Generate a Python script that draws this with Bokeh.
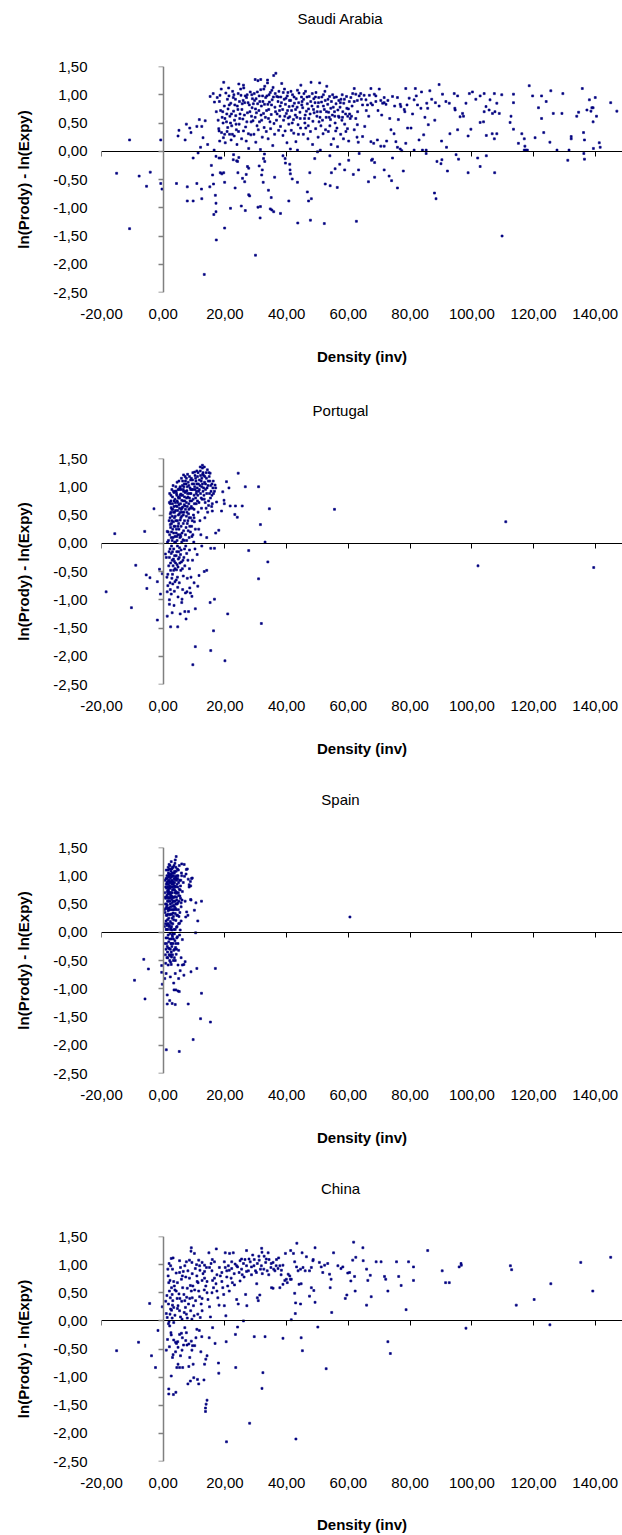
from bokeh.plotting import figure
from bokeh.models import Range1d, LinearAxis, FixedTicker, Title
from bokeh.layouts import column
from bokeh.embed import file_html
from bokeh.resources import INLINE

# ---------------- data ----------------
panel_titles = ["Saudi Arabia", "Portugal", "Spain", "China"]
x_axis_title = "Density (inv)"
y_axis_title = "ln(Prody) - ln(Expy)"
x_ticks = [-20, 0, 20, 40, 60, 80, 100, 120, 140]
x_tick_labels = ["-20,00", "0,00", "20,00", "40,00", "60,00", "80,00", "100,00", "120,00", "140,00"]
y_ticks = [-2.5, -2.0, -1.5, -1.0, -0.5, 0.0, 0.5, 1.0, 1.5]
y_tick_labels = ["-2,50", "-2,00", "-1,50", "-1,00", "-0,50", "0,00", "0,50", "1,00", "1,50"]

saudi_pts = [
 (-10.9,0.20),(-0.8,0.20),(-15.1,-0.39),(-7.8,-0.44),(-4.2,-0.37),(-5.4,-0.62),(-0.8,-0.57),(-0.4,-0.67),(-10.9,-1.37),(4.3,-0.57),
 (4.8,0.27),(5.1,0.37),(7.5,0.48),(7.1,0.20),(8.6,0.41),(9.0,0.33),(7.8,-0.63),(7.8,-0.88),(9.7,-0.88),(9.7,-0.12),
 (10.9,-0.57),(11.3,-0.03),(10.9,0.44),(11.7,0.56),(13.6,0.54),(12.5,0.44),(12.9,0.24),(12.1,0.07),(12.4,-0.67),(12.5,-0.84),
 (13.3,-2.18),(14.4,0.12),(15.1,-0.63),(15.6,-0.25),(16.0,-0.42),(16.3,-0.58),(16.5,0.02),(16.9,-0.78),(16.4,-1.12),(17.1,-0.92),
 (17.1,-1.07),(17.2,-1.57),(15.2,0.97),(16.2,1.02),(16.6,0.87),(17.1,-0.09),(18.1,-0.12),(18.1,0.36),(18.3,0.18),(18.5,-0.38),
 (18.7,-0.12),(19.0,-0.40),(19.6,1.22),(19.9,-0.55),(19.9,-1.36),(19.6,-0.38),
 (21.8,-1.01),(22.7,-0.15),(22.8,-0.06),(23.3,-0.65),(23.8,-0.17),(24.1,-0.18),(24.5,-0.11),(24.2,-0.38),(25.3,-0.97),(25.7,-0.48),
 (26.4,-0.54),(26.6,-1.05),(26.9,-0.41),(27.7,-0.77),(28.0,-0.79),(27.7,-0.30),(27.3,-0.27),(29.9,-1.84),(30.7,-0.99),(31.4,-1.18),
 (31.5,-0.98),(31.9,-0.42),(31.1,-0.26),(32.1,-0.33),(32.4,-0.55),(32.5,-0.13),(32.9,-0.18),(32.8,-0.05),(34.1,-0.69),(34.7,-1.02),
 (35.0,-0.82),(35.2,-1.04),(35.8,-1.07),(36.1,-0.46),(38.0,-1.10),(38.8,-0.08),(39.5,-0.13),(39.6,-0.21),(41.0,-0.23),(41.1,-0.33),
 (41.2,-0.40),(40.7,-0.88),(41.2,0.04),(41.8,-0.49),(43.5,-0.55),(43.5,0.02),(43.6,-1.27),(46.7,-0.72),(47.1,-0.88),(48.0,-0.84),
 (47.7,-1.22),(47.5,-0.38),(49.1,-0.13),(50.0,-0.01),(50.9,0.02),(52.2,-1.28),(52.5,-0.58),(54.0,-0.08),(54.1,-0.61),(55.7,-0.31),
 (56.4,-0.64),(54.5,-0.38),(57.2,-0.23),(58.8,-0.33),(60.1,-0.16),(61.6,-0.41),(62.6,-1.24),(63.3,-0.33),
 (17.5,0.95),(18.2,0.88),(18.6,0.72),(19.1,0.60),(19.4,0.50),(19.8,0.80),(20.3,1.03),(20.6,0.66),(20.9,0.42),(17.8,0.55),
 (18.9,0.33),(19.5,0.24),(20.1,0.15),(20.8,0.92),(18.4,0.99),(17.2,0.70),(19.9,0.30),(20.5,0.52),(18.0,0.40),(21.0,0.75),
 (21.3,0.98),(21.6,0.62),(21.9,0.85),(22.2,0.45),(22.5,1.06),(22.8,0.71),(23.1,0.55),(23.4,0.92),(23.7,0.38),(24.0,0.80),
 (24.3,1.02),(24.6,0.48),(24.9,0.66),(21.5,0.30),(22.0,0.20),(23.0,0.27),(23.9,0.12),(24.4,0.35),(22.7,0.95),(24.7,0.88),
 (21.8,0.50),(23.5,0.63),
 (25.2,0.99),(25.5,0.74),(25.8,0.57),(26.1,1.12),(26.4,0.86),(26.7,0.43),(27.0,0.95),(27.3,0.68),(27.6,0.31),(27.9,0.82),
 (28.2,1.05),(28.5,0.52),(28.8,0.77),(25.4,0.22),(26.0,0.36),(26.9,0.18),(27.7,0.05),(28.4,0.29),(28.9,0.93),(25.9,0.90),
 (27.2,1.00),(28.6,0.62),
 (29.2,0.84),(29.5,1.02),(29.8,0.60),(30.1,0.93),(30.4,0.45),(30.7,1.25),(31.0,0.72),(31.3,0.88),(31.6,1.09),(31.9,0.55),
 (32.2,0.98),(32.5,0.67),(32.8,0.83),(29.4,0.30),(30.0,0.16),(30.8,0.38),(31.5,0.03),(32.1,0.25),(32.7,0.42),(29.9,0.75),
 (31.2,0.52),(32.9,1.15),(30.5,1.05),(31.8,0.80),(29.8,1.27),(31.6,1.27),(33.8,1.26),
 (33.2,0.95),(33.5,0.72),(33.8,1.21),(34.1,0.58),(34.4,0.87),(34.7,1.04),(35.0,0.65),(35.3,0.91),(35.6,1.13),(35.9,0.49),
 (36.2,0.78),(36.5,1.38),(36.8,0.97),(33.4,0.35),(34.0,0.22),(34.8,0.40),(35.5,0.10),(36.1,0.30),(36.7,0.55),(33.9,0.83),
 (35.2,1.08),(36.4,0.70),(34.3,1.00),(35.8,1.34),
 (37.2,0.88),(37.5,1.06),(37.8,0.62),(38.1,0.96),(38.4,1.20),(38.7,0.74),(39.0,0.55),(39.3,1.10),(39.6,0.83),(39.9,0.67),
 (40.2,0.98),(40.5,0.59),(40.8,0.79),(37.4,0.37),(38.0,0.44),(38.8,0.28),(39.5,0.36),(40.1,0.15),(40.7,0.48),(37.9,0.80),
 (39.2,0.92),(40.4,1.04),(41.0,0.61),
 (41.3,0.90),(41.6,0.72),(41.9,1.00),(42.2,0.56),(42.5,0.85),(42.8,0.64),(43.1,0.93),(43.4,0.78),(43.7,0.47),(44.0,1.03),
 (44.3,0.69),(44.6,1.17),(44.9,0.82),(41.5,0.37),(42.3,0.32),(43.0,0.17),(43.8,0.30),(44.5,0.41),(42.0,0.80),(43.3,0.60),
 (44.8,0.96),(24.5,1.19),(26.0,1.17),
 (45.2,0.77),(45.5,0.92),(45.8,0.58),(46.1,1.06),(46.4,0.71),(46.7,0.84),(47.0,0.45),(47.3,0.97),(47.6,0.66),(47.9,1.22),
 (48.2,0.80),(48.5,0.53),(48.8,0.93),(45.4,0.30),(46.2,0.41),(46.9,0.22),(47.7,0.35),(48.4,0.12),(45.9,0.50),(47.1,0.75),
 (48.9,0.68),
 (49.2,0.86),(49.5,1.04),(49.8,0.62),(50.1,0.79),(50.4,0.95),(50.7,1.21),(51.0,0.70),(51.3,0.87),(51.6,0.55),(51.9,1.00),
 (52.2,0.74),(52.5,0.90),(52.8,0.60),(49.4,0.40),(50.2,0.25),(51.1,0.45),(51.8,0.31),(52.6,0.38),(53.0,1.15),(50.5,0.52),
 (53.3,0.83),(53.6,0.69),(53.9,0.97),(54.2,0.56),(54.5,0.88),(54.8,0.64),(55.1,0.78),(55.4,0.95),(55.7,0.50),(56.0,0.84),
 (56.3,0.41),(56.6,0.73),(56.9,0.90),(53.5,0.35),(54.4,0.12),(55.2,0.22),(55.9,0.36),(56.5,0.08),(54.0,0.45),(55.6,0.62),
 (57.0,0.60),
 (57.3,0.78),(57.6,0.92),(57.9,0.55),(58.2,0.70),(58.5,0.85),(58.8,0.48),(59.1,0.66),(59.4,0.97),(59.7,0.40),(60.0,0.75),
 (60.3,0.88),(60.6,0.58),(57.5,0.30),(58.4,0.22),(59.2,0.35),(60.1,0.18),(60.8,0.95),(58.0,1.00),(59.8,0.62),
 (18.8,1.10),(19.3,0.70),(20.0,0.58),(20.7,0.35),(21.2,1.12),(21.4,0.82),(22.1,0.66),(22.4,0.30),(22.9,1.00),(23.2,0.82),
 (23.6,0.48),(24.2,0.74),(24.8,0.58),(25.1,1.10),(25.6,0.84),(26.3,0.64),(26.6,0.98),(27.1,0.52),(27.5,0.86),(28.1,0.70),
 (28.7,1.00),(29.1,0.54),(29.6,0.90),(30.2,0.68),(30.6,0.84),(31.1,0.98),(31.7,0.64),(32.3,0.88),(32.6,1.10),(33.1,0.60),
 (33.6,0.98),(34.2,0.74),(34.6,0.52),(35.1,0.82),(35.7,0.96),(36.3,1.02),(36.9,0.66),(37.3,0.96),(37.7,0.72),(38.3,0.86),
 (38.9,1.04),(39.4,0.62),(39.8,0.94),(40.3,0.72),(40.9,0.90),(41.4,1.06),(41.8,0.50),(42.4,0.96),(42.9,0.74),(43.5,1.08),
 (43.9,0.86),(44.4,0.58),(45.0,0.88),(45.6,1.02),(46.0,0.64),(46.6,0.96),(47.2,0.58),(47.8,0.88),(48.3,1.02),(48.7,0.74),
 (49.3,0.96),(49.9,0.70),(50.3,0.86),(50.8,0.60),(51.4,0.96),(51.9,0.80),(52.4,1.06),(52.9,0.70),(53.4,0.92),(53.8,0.60),
 (54.3,0.76),(54.9,1.00),(55.5,0.70),(56.1,0.96),(56.8,0.62),(57.4,0.86),(58.1,0.60),(58.7,0.92),(59.5,0.76),(60.4,0.66),
 (61.2,0.80),(61.0,0.62),(63.0,0.70),(64.2,0.92),(65.8,0.72),(66.6,0.62),(69.6,0.72),(70.8,0.64),(72.8,0.90),(73.4,0.58),
 (75.0,0.80),(76.2,0.56),(79.0,0.82),(80.8,0.66),(82.0,0.98),(84.8,0.60),(87.0,0.92),(88.0,0.55),
 (61.9,1.11),(67.3,1.11),(70.0,1.10),(61.4,1.02),(62.4,1.01),(63.5,0.98),(64.0,1.02),(65.1,0.99),(66.8,0.99),(68.4,1.01),
 (68.9,0.98),(71.6,0.95),(61.9,0.88),(62.9,0.90),(64.6,0.82),(65.7,0.91),(66.2,0.82),(67.3,0.85),(67.8,0.82),(68.9,0.88),
 (70.5,0.90),(71.1,0.85),(71.6,0.86),(72.2,0.83),(74.3,0.97),(75.9,0.95),(76.8,0.83),(77.0,0.79),(78.1,0.74),(78.3,0.70),
 (78.6,1.11),(81.7,1.11),(83.7,1.05),(86.4,1.07),(79.7,0.94),(81.3,0.91),(82.4,0.82),(83.5,0.76),(85.4,0.85),(85.7,0.76),
 (89.4,1.18),(88.2,0.86),(89.4,0.80),(90.5,1.01),(91.6,0.88),(92.7,0.85),(94.3,1.02),(95.4,0.98),(94.5,0.76),(94.6,0.73),
 (97.0,0.67),(97.3,0.62),(98.1,0.85),(99.2,1.02),(100.2,1.05),(101.3,0.92),(102.7,0.98),(104.0,1.02),(104.0,0.70),(104.6,0.79),
 (105.6,0.73),(105.9,0.91),(106.7,0.67),(107.3,1.02),(107.5,0.70),(108.1,0.85),(108.9,0.67),(109.7,1.00),(113.5,1.01),(113.5,0.86),
 (112.7,0.62),(112.4,0.51),(113.5,0.39),(118.6,1.16),(119.7,0.98),(121.6,0.77),(122.6,0.98),(124.1,0.88),(125.6,1.07),(126.4,0.67),
 (129.2,0.67),(129.5,1.02),(122.6,0.58),(134.0,0.62),(134.6,0.69),(135.8,1.11),(137.3,0.73),(138.1,0.91),(138.6,0.71),(138.9,0.77),
 (139.3,0.77),(139.3,0.52),(140.0,0.95),(140.4,0.62),(145.0,0.86),(147.0,0.71),
 (62.4,0.58),(62.9,0.47),(61.9,0.38),(62.8,0.25),(63.2,0.16),(64.6,0.26),(65.3,0.44),(67.3,0.17),(68.2,0.14),(69.4,0.20),
 (70.5,0.09),(71.6,0.09),(72.4,0.18),(73.8,0.38),(74.8,0.31),(75.4,0.17),(75.9,0.07),(76.8,0.04),(77.3,0.01),(78.6,0.14),
 (79.2,0.41),(80.3,0.41),(81.3,0.02),(82.9,0.20),(84.0,0.02),(84.4,0.29),(85.2,0.02),(85.9,0.47),(90.2,0.18),(91.8,0.07),
 (92.9,0.31),(95.4,0.38),(96.2,0.61),(98.8,0.27),(99.7,0.39),(102.7,0.51),(103.8,0.52),(104.7,0.28),(106.6,0.31),(107.3,0.22),
 (108.1,0.31),(115.1,0.14),(116.2,0.31),(117.0,0.22),(117.2,0.09),(117.0,0.02),(117.5,0.02),(118.0,0.02),(120.5,0.24),(123.3,0.33),
 (125.3,0.16),(127.6,0.02),(131.5,0.02),(132.2,0.26),(132.2,0.22),(136.2,0.33),(136.5,0.20),(139.4,0.05),(141.3,0.15),(141.6,0.07),
 (63.5,-0.04),(66.5,-0.54),(67.5,-0.16),(67.8,-0.14),(68.5,-0.20),(68.5,-0.46),(71.6,-0.33),(73.2,-0.44),(74.0,-0.52),(74.3,-0.12),
 (75.9,-0.65),(77.8,-0.35),(85.2,-0.04),(87.9,-0.74),(88.4,-0.84),(88.7,-0.18),(90.0,-0.22),(90.3,-0.15),(92.1,-0.35),(94.9,-0.06),
 (95.7,-0.14),(98.8,-0.38),(101.9,-0.12),(102.7,-0.27),(104.7,-0.08),(107.4,-0.38),(109.8,-1.50),(131.1,-0.16),(136.5,-0.14),(136.3,-0.04),
]

portugal_pts = [
 (-15.7,0.17),(-6.0,0.21),(-3.0,0.61),(-8.9,-0.39),(-18.5,-0.86),(-10.3,-1.14),(-5.5,-0.56),(-4.3,-0.61),(-5.3,-0.80),(-1.9,-0.68),
 (-0.9,-0.90),(-1.2,-0.46),(-0.3,-0.54),(-1.9,-1.36),(1.3,0.21),(0.7,-0.19),(1.3,-0.86),(2.0,-1.08),(1.3,-1.29),(2.4,-1.48),
 (2.9,-1.23),(4.7,-1.48),(5.5,-1.25),(7.0,-1.21),(7.4,-1.34),(8.2,-1.21),(10.4,-1.83),(9.6,-2.15),(15.4,-1.90),(16.3,-1.55),
 (20.0,-2.08),(20.9,-1.25),(31.8,-1.42),(15.2,-1.05),(16.6,-0.99),(11.2,-0.76),(10.4,-1.16),(11.6,-0.57),(13.3,-0.50),(14.1,-0.48),
 (9.3,-0.94),(8.8,-0.88),(8.6,-0.79),(7.7,-0.86),(6.1,-0.99),(30.9,-0.63),(33.9,-0.33),(27.7,-0.13),(33.0,0.02),(31.5,0.33),
 (34.4,0.61),(24.3,1.24),(26.6,1.00),(30.9,1.00),(20.5,1.09),(21.3,0.98),(21.7,0.66),(23.4,0.66),(25.6,0.66),(23.2,0.51),
 (24.0,0.46),(18.9,0.57),(19.7,0.76),(19.8,0.70),(19.3,0.91),(18.0,0.23),(17.0,0.18),(16.6,-0.09),(15.4,-0.09),(14.1,0.10),
 (17.0,0.98),(17.3,0.73),(15.7,0.65),(15.9,0.57),(14.7,0.67),(55.5,0.60),(102.0,-0.40),(111.0,0.38),(139.5,-0.43),
 (1.5,-0.55),(1.8,-0.40),(2.0,-0.25),(2.2,-0.10),(1.7,0.05),(2.1,0.15),(2.4,0.28),(1.9,0.40),(2.3,0.52),(2.6,0.63),
 (2.0,0.72),(2.5,0.85),(2.8,0.95),(1.6,0.20),(2.7,0.35),(2.9,-0.30),(2.4,-0.48),(2.2,-0.70),(2.8,-0.62),(1.4,0.02),
 (2.6,0.10),(2.9,0.48),(3.0,0.70),(1.9,-0.15),(2.3,0.33),(2.7,-0.05),
 (3.2,1.02),(3.5,0.90),(3.8,0.78),(4.1,0.66),(3.3,0.55),(3.6,0.45),(3.9,0.30),(4.2,0.18),(4.5,0.05),(3.4,-0.10),
 (3.7,-0.22),(4.0,-0.35),(4.3,-0.47),(4.6,-0.60),(3.1,-0.72),(3.6,-0.85),(4.8,0.95),(4.4,0.85),(4.7,0.72),(3.0,0.82),
 (3.3,0.38),(4.9,0.50),(4.0,0.58),(4.6,0.40),(3.8,0.12),(4.4,-0.15),(3.2,-0.40),(4.9,-0.28),(4.1,1.00),(3.5,0.65),
 (4.3,0.25),(4.8,0.15),(3.9,0.92),(4.5,1.08),(3.1,0.25),(3.7,0.02),(4.2,-0.65),(4.7,-0.78),
 (5.1,1.10),(5.4,0.98),(5.7,0.87),(6.0,0.76),(6.3,0.64),(5.2,0.52),(5.5,0.41),(5.8,0.30),(6.1,0.18),(6.4,0.06),
 (5.3,-0.08),(5.6,-0.20),(5.9,-0.33),(6.2,-0.45),(6.5,-0.58),(5.0,0.80),(5.6,0.70),(6.6,0.92),(6.8,1.05),(5.9,1.15),
 (6.2,1.02),(5.3,0.62),(6.7,0.55),(6.9,0.40),(5.1,0.25),(6.0,0.48),(5.7,0.12),(6.6,0.22),(5.4,-0.35),(6.9,-0.10),
 (6.3,0.85),(5.8,0.95),(6.5,0.75),
 (7.1,1.18),(7.4,1.05),(7.7,0.93),(8.0,0.82),(8.3,0.70),(7.2,0.60),(7.5,0.48),(7.8,0.35),(8.1,0.22),(8.4,0.10),
 (7.3,-0.05),(7.6,-0.18),(8.0,-0.30),(8.7,0.98),(8.9,1.12),(7.9,1.22),(8.5,0.88),(8.8,0.62),(7.0,0.75),(7.6,0.80),
 (8.2,0.52),(8.6,0.30),(7.4,0.28),(8.9,0.45),(7.1,0.90),(8.3,1.02),(7.8,0.65),(8.5,-0.12),
 (9.1,1.15),(9.4,1.05),(9.7,0.95),(10.0,0.85),(10.3,1.20),(9.2,0.75),(9.5,0.62),(9.8,0.50),(10.1,0.38),(10.4,0.25),
 (9.3,0.12),(9.9,0.02),(10.6,1.10),(10.8,0.92),(9.6,1.25),(10.2,1.00),(10.7,0.70),(9.0,0.88),(10.5,0.80),(9.4,0.40),
 (10.9,1.28),(10.0,0.60),(10.3,-0.10),
 (11.1,1.18),(11.4,1.05),(11.7,0.95),(12.0,1.28),(12.3,1.10),(11.2,0.85),(11.6,0.72),(12.1,0.88),(12.5,1.00),(12.8,1.22),
 (11.3,0.55),(12.6,0.78),(11.9,0.40),(12.4,0.62),(11.0,0.98),(12.9,0.92),(11.5,0.25),(12.2,0.15),
 (13.1,1.20),(13.4,1.08),(13.7,0.95),(14.0,1.15),(14.3,1.30),(13.2,0.85),(13.6,0.72),(14.1,0.88),(14.5,1.02),(14.8,1.25),
 (15.1,1.10),(15.5,0.92),(15.8,1.05),(16.1,0.98),(13.9,0.62),(14.7,0.75),(15.3,0.80),(13.5,0.45),(16.3,0.88),(14.4,0.55),
 (15.9,0.70),(13.3,1.35),(14.9,1.18),(12.7,1.33),(12.7,1.38),(12.0,1.35),(10.2,1.26),(6.6,1.21),(15.2,1.24),(16.8,1.03),
 (5.5,0.85),(6.5,0.95),(7.5,0.72),(8.5,0.80),(5.2,0.95),(6.2,0.55),(7.2,1.10),(4.5,0.65),(3.5,0.75),(4.2,0.92),
 (5.8,0.60),(6.8,0.68),(7.8,1.00),(3.9,0.48),(4.8,0.30),(5.5,0.15),(6.5,0.35),(3.4,0.18),(2.8,0.60),(2.5,0.75),
 (1.0,-0.25),(1.5,-0.75),(2.6,-0.90),(3.0,-0.55),(3.8,-0.68),(4.5,-0.38),(5.2,-0.70),(5.7,-0.48),(6.3,-0.82),(7.0,-0.40),
 (7.8,-0.62),(2.0,-1.00),(3.5,-1.10),(4.8,-0.95),(6.0,-1.05),(7.2,-0.88),(8.5,-0.45),(9.5,-0.30),(11.0,-0.20),(12.5,-0.05),
 (10.0,-0.70),(9.0,-0.60),(1.2,-0.60),(2.3,-0.82),(3.3,-0.28),(6.7,-0.25),(5.0,-0.15),
 (2.1,0.88),(2.3,0.70),(2.5,0.55),(2.7,0.20),(2.9,0.05),(3.1,0.60),(3.3,0.92),(3.5,0.30),(3.7,0.55),(3.9,0.72),
 (4.1,0.40),(4.3,0.88),(4.5,0.75),(4.7,0.58),(4.9,0.82),(5.1,0.68),(5.3,0.80),(5.5,1.00),(5.7,0.45),(5.9,0.85),
 (6.1,0.62),(6.3,1.10),(6.5,0.50),(6.7,1.00),(6.9,0.82),(7.1,0.66),(7.3,0.92),(7.5,1.15),(7.7,0.55),(7.9,0.88),
 (8.1,1.08),(8.3,0.60),(8.5,1.18),(8.7,0.75),(8.9,0.95),(9.1,0.65),(9.3,0.95),(9.5,1.12),(9.7,0.78),(9.9,1.05),
 (10.1,0.70),(10.3,0.95),(10.5,1.15),(10.7,0.88),(10.9,1.05),(11.1,0.75),(11.3,1.25),(11.5,0.92),(11.7,1.12),(11.9,1.02),
 (12.1,1.20),(12.3,0.80),(12.5,1.15),(12.7,1.05),(12.9,1.25),(13.1,0.98),(13.3,0.78),(13.5,1.18),(13.7,1.05),(13.9,1.25),
 (14.2,0.98),(14.6,1.10),(15.0,0.88),(15.4,1.02),(15.8,0.85),(16.2,1.10),(16.6,0.92),(2.2,0.45),(2.4,-0.35),(2.6,-0.18),
 (2.8,0.40),(3.0,-0.15),(3.2,0.10),(3.4,-0.48),(3.6,-0.32),(3.8,-0.45),(4.0,0.02),(4.2,-0.22),(4.4,0.12),(4.6,-0.05),
 (4.8,-0.42),(5.0,0.35),(5.2,-0.25),(5.4,0.10),(5.6,0.55),(5.8,-0.12),(6.0,0.02),(6.4,-0.30),(6.8,0.05),(7.2,0.15),
 (7.6,0.05),(8.0,0.40),(8.4,0.45),(8.8,0.20),(9.2,0.30),(9.6,0.15),(10.0,0.45),
]

spain_pts = [
 (-6.3,-0.48),(-4.8,-0.65),(-9.3,-0.85),(-5.9,-1.18),(-0.5,-0.59),(-0.5,-0.71),(-0.3,-0.92),(1.0,-2.08),(5.2,-2.11),(9.7,-1.90),
 (12.1,-1.53),(15.3,-1.59),(8.1,-1.27),(12.4,-1.08),(10.9,-0.64),(16.9,-0.64),(9.0,-0.70),(6.7,-0.76),(7.1,-0.52),(10.5,-0.01),
 (11.2,0.20),(10.1,0.39),(10.6,0.52),(12.4,0.55),(8.9,0.58),(8.0,0.30),(7.3,0.27),(6.2,-0.13),(8.4,0.84),(9.2,0.95),
 (8.8,0.90),(7.5,1.11),(1.3,-1.27),(2.1,-1.21),(2.9,-1.26),(3.9,-1.28),(4.1,-1.02),(4.8,-1.04),(5.2,-1.05),(3.5,-1.02),
 (1.3,-1.11),(3.4,-0.90),(5.0,-0.82),(6.2,-0.58),(5.5,-0.68),(3.9,-0.73),(2.3,-0.79),(0.5,-0.82),(0.95,-0.73),(1.6,-0.58),
 (2.6,-0.57),(4.8,-0.58),(5.8,-0.45),(6.7,-0.57),(60.5,0.27),
 (4.2,1.34),(3.9,1.28),(6.0,1.21),(6.8,1.20),(7.8,1.12),(7.4,1.03),(6.9,0.99),(8.1,0.94),(9.4,0.96),(8.9,0.82),
 (8.4,0.80),(9.0,0.57),(7.1,0.55),(5.8,0.52),(6.1,0.57),(7.6,0.36),
 (0.4,0.10),(0.6,0.35),(0.8,0.60),(1.0,0.85),(1.2,1.00),(0.5,-0.20),(0.7,-0.40),(0.9,0.20),(1.1,0.45),(1.3,0.72),
 (0.6,0.92),(1.4,-0.10),(0.8,-0.55),(1.0,0.05),(1.2,0.30),(1.4,0.55),(0.5,0.70),(1.3,0.95),(0.9,-0.30),(1.1,-0.20),
 (0.7,0.50),(1.5,0.80),(0.4,0.40),(1.0,1.10),
 (1.6,1.15),(1.8,1.02),(2.0,0.90),(2.2,0.78),(2.4,0.66),(1.7,0.55),(1.9,0.43),(2.1,0.31),(2.3,0.19),(2.5,0.07),
 (1.6,-0.05),(1.8,-0.17),(2.0,-0.29),(2.2,-0.41),(2.4,-0.53),(1.7,0.85),(1.9,0.70),(2.1,0.60),(2.3,0.95),(2.5,1.08),
 (1.6,0.38),(1.8,0.25),(2.0,0.12),(2.2,-0.02),(2.4,0.45),(1.9,1.20),(2.1,0.99),(2.3,0.50),(1.7,0.15),(2.5,-0.20),
 (2.0,0.68),(2.2,0.88),(1.8,0.62),(2.4,0.32),(1.6,0.75),(2.3,-0.30),
 (2.6,1.25),(2.8,1.12),(3.0,1.00),(3.2,0.88),(3.4,0.76),(2.7,0.64),(2.9,0.52),(3.1,0.40),(3.3,0.28),(2.6,0.16),
 (2.8,0.04),(3.0,-0.08),(3.2,-0.20),(3.4,-0.32),(2.7,-0.44),(2.9,0.92),(3.1,0.80),(3.3,1.05),(3.5,1.18),(2.6,0.70),
 (2.8,0.58),(3.0,0.46),(3.2,0.34),(3.4,0.22),(2.7,0.10),(3.1,-0.02),(3.3,0.62),(2.9,0.25),(3.5,0.95),(3.0,0.75),
 (2.8,0.85),(3.4,0.48),(3.2,1.15),(2.6,-0.12),(3.3,-0.50),
 (3.6,1.05),(3.8,0.93),(4.0,0.81),(4.2,0.69),(4.4,0.57),(3.7,0.45),(3.9,0.33),(4.1,0.21),(4.3,0.09),(3.6,-0.03),
 (3.8,-0.15),(4.0,-0.27),(4.2,-0.39),(3.7,0.75),(3.9,0.63),(4.1,1.15),(4.3,1.00),(4.5,0.85),(3.6,0.55),(4.0,0.42),
 (4.4,0.30),(3.8,1.22),(4.2,0.95),(4.4,-0.10),(3.9,0.05),(4.1,0.50),(3.7,0.88),(4.5,0.70),
 (4.6,1.12),(4.8,1.00),(5.0,0.88),(5.2,0.76),(5.4,0.64),(4.7,0.52),(4.9,0.40),(5.1,0.28),(5.3,0.16),(5.5,0.04),
 (4.6,-0.08),(4.8,-0.20),(5.0,-0.32),(5.7,0.92),(5.9,1.05),(5.6,0.60),(5.8,0.45),(5.2,1.18),(4.9,0.70),(5.4,0.35),
 (5.0,0.15),(5.6,0.82),(4.7,0.95),(5.3,-0.05),(5.8,0.20),(6.2,0.72),(6.5,0.88),(6.0,1.00),
 (1.2,0.65),(1.5,0.90),(1.7,1.05),(2.0,1.12),(2.2,1.02),(2.5,0.88),(2.7,0.98),(1.4,0.42),(1.1,0.78),(2.4,0.80),
 (2.9,0.70),(1.8,0.92),(2.6,0.40),(1.3,0.15),(1.5,0.05),(1.9,-0.40),(2.1,-0.50),(1.4,-0.35),(2.6,-0.35),(3.0,-0.40),
 (3.6,-0.45),(1.2,-0.45),(2.8,-0.25),
 (0.6,0.62),(0.8,0.80),(0.9,0.95),(1.0,0.30),(1.1,0.62),(1.2,0.12),(1.3,0.48),(1.4,0.85),(1.5,0.32),(1.6,0.60),
 (1.7,0.98),(1.8,0.40),(1.9,0.78),(2.0,1.02),(2.0,0.40),(2.1,0.82),(2.2,0.55),(2.3,0.70),(2.4,1.12),(2.5,0.62),
 (2.6,0.90),(2.7,0.80),(2.8,0.32),(2.9,1.05),(3.0,0.62),(3.1,0.90),(3.2,0.55),(3.3,0.85),(3.4,0.62),(3.5,0.40),
 (3.6,0.82),(3.7,1.08),(3.8,0.55),(3.9,0.80),(4.0,0.98),(4.1,0.72),(4.2,0.40),(4.3,0.62),(4.4,0.92),(4.5,0.50),
 (4.7,0.80),(4.9,1.10),(5.1,0.55),(5.3,0.92),(5.5,0.75),(0.7,0.15),(0.9,-0.10),(1.1,0.05),(1.3,-0.25),(1.5,-0.45),
 (1.7,-0.28),(1.9,0.10),(2.1,-0.12),(2.3,0.05),(2.5,-0.40),(2.7,-0.20),(2.9,-0.05),(3.1,0.15),(3.3,-0.12),(3.5,0.05),
 (3.7,-0.30),(3.9,-0.50),(4.1,-0.20),(4.3,-0.30),(4.5,0.10),(1.0,0.50),(1.2,0.88),(1.4,0.22),(1.6,1.10),(1.8,0.72),
 (2.2,1.18),(2.6,1.02),(3.0,1.15),(3.4,1.00),(3.8,0.70),(4.2,1.08),(4.6,0.30),(5.0,0.65),(0.8,0.42),(1.5,0.68),
]

china_pts = [
 (-15.1,-0.53),(-8.0,-0.38),(-4.4,0.31),(-3.8,-0.62),(-2.5,-0.83),(-1.7,-0.17),(-0.3,0.25),(1.0,-0.52),(1.8,-1.21),(1.8,-1.30),
 (2.6,-0.98),(3.3,-1.31),(4.1,-1.27),(3.0,-0.65),(3.2,-0.60),(2.0,-0.46),(2.6,-0.25),(2.5,-0.21),(1.4,-0.33),(1.7,-0.05),
 (2.1,-0.09),(3.4,-0.34),(4.0,-0.38),(4.3,-0.40),(4.7,-0.37),(4.8,-0.47),(5.3,-0.24),(5.9,-0.22),(6.2,-0.30),(6.6,-0.43),
 (7.3,-0.35),(7.5,-0.21),(7.7,-0.43),(8.3,-0.41),(9.1,-0.36),(9.5,-0.44),(10.2,-0.44),(9.3,-0.52),(6.1,-0.52),(4.8,-0.77),
 (5.3,-0.83),(4.4,-0.83),(6.3,-0.83),(8.3,-0.81),(9.7,-0.77),(8.0,-1.12),(8.8,-1.07),(9.9,-1.01),(11.1,-1.04),(11.5,-1.12),
 (13.2,-1.05),(13.4,-0.77),(14.2,-0.62),(13.8,-0.68),(14.2,-1.41),(13.9,-1.48),(13.7,-1.55),(13.7,-1.61),(10.9,-0.15),(11.7,-0.17),
 (12.5,-0.28),(14.9,-0.30),(16.0,-0.12),(16.8,-0.40),(17.9,-0.75),(18.0,-0.93),(20.4,-0.37),(23.5,-0.83),(23.4,-0.24),(24.1,-0.11),
 (29.5,-0.28),(33.0,-0.28),(32.3,-0.92),(32.0,-1.20),(38.8,-0.31),(44.7,-0.30),(45.1,-0.53),(50.1,-0.11),(52.8,-0.85),(41.5,0.02),
 (20.5,-2.15),(43.0,-2.10),(28.0,-1.82),
 (9.1,1.30),(9.0,1.24),(17.2,1.28),(14.8,1.21),(10.1,1.20),(3.2,1.12),(1.9,1.02),(2.6,1.11),(5.3,1.07),(7.5,1.05),
 (8.5,1.08),(9.3,1.04),(11.5,1.08),(12.6,1.04),(13.4,0.99),(15.5,1.02),(15.9,1.09),(20.1,1.21),(21.5,1.20),(22.7,1.21),
 (31.9,1.29),(32.0,1.22),(34.0,1.21),(29.0,1.17),(27.0,1.25),(43.3,1.38),(41.3,1.25),(42.2,1.20),(45.0,1.21),(49.2,1.30),
 (46.4,1.14),(48.6,1.09),(55.2,1.21),
 (20.1,0.95),(20.6,0.89),(21.1,0.98),(22.2,0.93),(23.3,1.01),(24.1,0.96),(24.9,1.07),(25.4,0.92),(26.0,1.02),(26.5,1.09),
 (27.0,0.98),(27.6,0.89),(28.2,1.05),(28.6,0.96),(29.5,1.09),(29.9,0.89),(30.5,1.02),(31.1,1.08),(31.5,0.92),(32.1,0.84),
 (32.7,1.15),(33.2,1.04),(33.7,0.89),(34.3,1.09),(34.9,0.95),(35.6,1.04),(36.2,0.89),(36.7,1.09),(37.2,0.93),(37.8,0.98),
 (38.3,0.90),(38.8,0.99),(39.6,1.20),(39.9,0.74),(40.2,0.68),(41.0,0.80),(41.5,0.74),(40.5,0.83),(42.6,1.05),(43.2,0.96),
 (43.7,0.89),(44.5,0.92),(45.3,0.95),(46.0,0.89),(47.4,0.89),(48.0,0.95),(48.5,1.07),(50.6,1.04),(51.2,0.96),(51.7,0.86),
 (52.3,0.99),(53.3,1.02),(53.9,0.83),(54.4,0.74),(54.1,0.59),(56.6,0.98),(57.6,0.93),(58.2,0.96),(59.8,0.85),(60.4,0.86),
 (60.8,0.71),(59.0,0.40),(59.5,0.46),
 (42.6,0.49),(42.9,0.32),(44.5,0.30),(44.0,0.65),(44.7,0.66),(47.4,0.44),(48.0,0.59),(48.8,0.54),(49.2,0.33),(54.6,0.15),
 (42.8,0.13),
 (1.6,0.80),(1.8,0.68),(2.0,0.53),(2.3,0.41),(1.7,0.30),(2.4,0.21),(1.0,0.13),(1.3,0.06),(1.9,-0.01),(2.9,0.05),
 (3.4,-0.03),(2.7,0.19),(3.4,0.24),(3.1,0.36),(2.9,0.47),(2.7,0.59),(3.6,0.62),(4.2,0.53),(4.5,0.40),(4.8,0.27),
 (5.3,0.18),(5.6,0.07),(6.1,0.03),(5.3,0.86),(5.9,0.74),(6.3,0.59),(6.7,0.47),(7.0,0.36),(7.2,0.24),(7.5,0.12),
 (7.8,0.05),(8.0,0.89),(8.5,0.76),(8.8,0.63),(9.1,0.53),(9.4,0.41),(9.8,0.27),(10.0,0.09),(9.3,0.03),(10.4,0.93),
 (10.9,0.80),(11.3,0.68),(11.5,0.53),(11.8,0.43),(12.3,0.30),(12.6,0.18),(12.0,0.06),(12.9,0.84),(13.4,0.76),(13.8,0.62),
 (14.2,0.50),(14.5,0.38),(15.0,0.25),(15.3,0.07),(15.8,0.89),(16.0,0.72),(16.3,0.59),(16.6,0.76),(17.1,0.66),(17.4,0.53),
 (17.7,0.41),(18.1,0.28),(18.5,0.80),(19.0,0.70),(19.3,0.59),(19.6,0.47),(19.8,0.27),(20.3,0.09),(20.9,0.62),(21.4,0.53),
 (22.0,0.76),(22.4,0.68),(23.1,0.64),(23.8,0.38),(24.3,0.30),(24.9,0.71),(25.6,0.82),(26.7,0.47),(27.1,0.27),(26.0,0.00),
 (30.5,0.41),(30.8,0.36),(31.3,0.46),(30.3,0.66),(35.1,0.59),(35.6,0.58),(37.8,0.59),(38.8,0.65),(39.4,0.72),(41.2,0.74),
 (1.2,0.45),(2.2,0.12),(3.0,0.28),(3.8,0.10),(4.6,0.22),(5.1,0.48),(6.0,0.35),(6.8,0.15),(7.6,0.42),(8.2,0.30),
 (8.9,0.18),(9.6,0.62),(10.5,0.36),(11.2,0.12),(3.4,0.70),(4.2,0.85),(5.6,0.95),(6.5,0.88),(7.3,0.78),(10.8,1.00),
 (11.9,0.90),(12.6,0.72),(13.3,0.55),(14.0,0.95),(1.5,0.92),(2.4,0.98),(0.8,0.35),
 (2.2,0.72),(3.0,0.92),(3.8,0.55),(4.6,0.68),(5.4,0.40),(6.2,0.80),(7.0,0.98),(7.8,0.58),(8.6,0.40),(9.4,0.84),
 (10.2,0.55),(11.0,0.70),(11.8,0.98),(12.6,0.40),(13.4,0.88),(14.2,0.70),(15.0,0.95),(15.8,0.50),(16.6,1.05),(17.4,0.82),
 (18.2,0.95),(19.0,0.86),(19.8,1.05),(20.6,0.78),(21.4,0.90),(22.2,1.05),(23.0,0.84),(23.8,0.98),(24.6,0.86),(25.4,1.10),
 (26.2,0.78),(27.0,0.88),(27.8,1.10),(28.6,0.82),(29.4,0.98),(30.2,0.86),(31.0,1.15),(31.8,0.98),(32.6,0.92),(33.4,1.10),
 (34.2,0.82),(35.0,1.02),(35.8,0.92),(36.6,0.98),(37.4,1.12),(38.2,0.82),(4.0,-0.55),(5.6,-0.62),(7.0,-0.12),(8.6,-0.65),
 (10.6,-0.30),(12.2,-0.55),
 (61.4,1.08),(62.4,1.13),(61.7,1.40),(64.7,1.30),(64.8,1.07),(65.9,0.92),(67.1,0.81),(66.3,0.72),(67.4,0.43),(65.9,0.28),
 (62.0,0.79),(62.2,0.53),(69.0,1.05),(70.6,1.05),(71.7,0.79),(72.1,0.74),(72.8,0.53),(75.6,1.05),(76.3,0.79),(77.1,0.63),
 (78.7,0.20),(79.5,1.05),(81.1,0.96),(81.1,0.72),(85.7,1.25),(90.4,0.89),(91.5,0.68),(92.7,0.68),(95.9,0.96),(96.5,1.02),
 (96.6,0.99),(98.1,-0.13),(72.8,-0.37),(73.6,-0.58),(112.5,0.98),(112.9,0.91),(114.4,0.28),(120.2,0.38),(125.3,-0.07),(125.6,0.66),
 (135.3,1.04),(139.2,0.53),(145.0,1.13),
]

all_panels = [saudi_pts, portugal_pts, spain_pts, china_pts]

# ---------------- layout / style ----------------
FONT = "Liberation Sans"
MARK = "#000080"
FIG_W = 622
FIG_H = [392, 389, 389, 365]
TOP = 66
FRAME_H = 226
LEFT = 101
X_END = -20 + (FIG_W - LEFT) / 3.086
TITLE_CENTER = 340
TITLE_W = [85.9, 55.9, 38.4, 39.2]
XLABEL_STANDOFF = [26, 26, 26, 25]

x_over = {t: l for t, l in zip(x_ticks, x_tick_labels)}
y_over = {t: l for t, l in zip(y_ticks, y_tick_labels)}
x_blank = {t: "" for t in x_ticks}
y_blank = {t: "" for t in y_ticks}


def make_panel(i):
    pts = all_panels[i]
    xs = [q[0] for q in pts]
    ys = [q[1] for q in pts]
    h = FIG_H[i]
    p = figure(width=FIG_W, height=h,
               x_range=Range1d(-20, X_END), y_range=Range1d(-2.5, 1.5),
               x_axis_location=None, y_axis_location=None,
               toolbar_location=None, output_backend="svg",
               min_border_left=LEFT, min_border_right=0,
               min_border_top=TOP, min_border_bottom=h - TOP - FRAME_H)
    p.grid.grid_line_color = None
    p.outline_line_color = None
    p.background_fill_color = "white"
    p.border_fill_color = "white"

    # invisible spacer above the frame (white tick), then the title further out
    spacer = LinearAxis(ticker=FixedTicker(ticks=[-19]), major_tick_out=39, major_tick_in=0,
                        major_tick_line_color="white", minor_tick_line_color=None,
                        axis_line_color=None, major_label_standoff=0,
                        major_label_overrides={-19: ""}, major_label_text_font_size="1px")
    p.add_layout(spacer, "above")
    t = Title(text=panel_titles[i], align="left",
              offset=TITLE_CENTER - LEFT - TITLE_W[i] / 2, standoff=2,
              text_font=FONT, text_font_size="15px", text_font_style="normal",
              text_color="black")
    p.add_layout(t, "above")

    # axis crossing at y = 0 (line + ticks only)
    xa = LinearAxis(fixed_location=0, ticker=FixedTicker(ticks=x_ticks),
                    major_tick_out=5, major_tick_in=0, minor_tick_line_color=None,
                    axis_line_color="black", major_tick_line_color="black",
                    major_label_overrides=x_blank, major_label_text_font_size="1px")
    p.add_layout(xa, "below")
    # tick labels + title at the bottom
    xl = LinearAxis(ticker=FixedTicker(ticks=x_ticks), major_tick_out=0, major_tick_in=0,
                    axis_line_color=None, major_tick_line_color=None, minor_tick_line_color=None,
                    major_label_standoff=16, major_label_overrides=x_over,
                    major_label_text_font=FONT, major_label_text_font_size="15px",
                    major_label_text_color="black",
                    axis_label=x_axis_title, axis_label_standoff=XLABEL_STANDOFF[i],
                    axis_label_text_font=FONT, axis_label_text_font_size="15px",
                    axis_label_text_font_style="bold", axis_label_text_color="black")
    p.add_layout(xl, "below")

    # axis crossing at x = 0 (line + ticks only)
    ya = LinearAxis(fixed_location=0, ticker=FixedTicker(ticks=y_ticks),
                    major_tick_out=5, major_tick_in=0, minor_tick_line_color=None,
                    axis_line_color="#808080", major_tick_line_color="#808080",
                    axis_line_width=1.5, major_tick_line_width=1.5,
                    major_label_overrides=y_blank, major_label_text_font_size="1px")
    p.add_layout(ya, "left")
    yl = LinearAxis(ticker=FixedTicker(ticks=y_ticks), major_tick_out=0, major_tick_in=0,
                    axis_line_color=None, major_tick_line_color=None, minor_tick_line_color=None,
                    major_label_standoff=14, major_label_overrides=y_over,
                    major_label_text_font=FONT, major_label_text_font_size="15px",
                    major_label_text_color="black",
                    axis_label=y_axis_title, axis_label_standoff=18,
                    axis_label_text_font=FONT, axis_label_text_font_size="15px",
                    axis_label_text_font_style="bold", axis_label_text_color="black")
    p.add_layout(yl, "left")

    p.scatter(x=xs, y=ys, marker="square", size=2, fill_color=MARK,
              line_color=MARK, line_width=0.6)
    return p


layout = column(*[make_panel(i) for i in range(4)], spacing=0)
open("out.html", "w").write(file_html(layout, INLINE))
